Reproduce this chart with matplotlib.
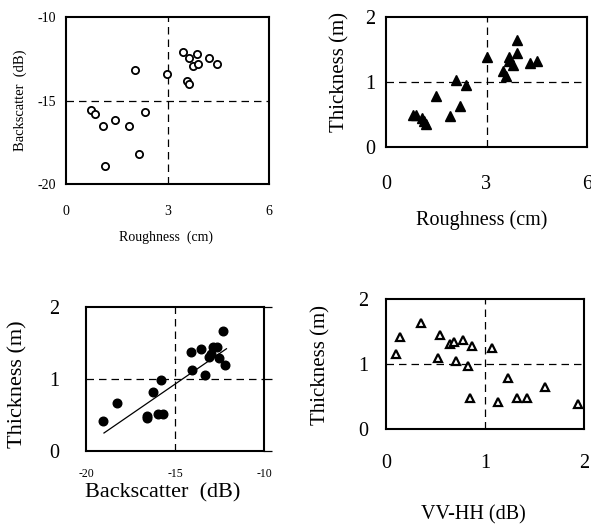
import matplotlib
matplotlib.use("Agg")
import matplotlib.pyplot as plt

plt.rcParams['font.family'] = ['Liberation Serif', 'DejaVu Serif']
plt.rcParams['axes.unicode_minus'] = False

# Panel a: Backscatter vs Roughness
rough_a = [0.74, 0.87, 1.10, 1.46, 1.86, 1.16, 2.17, 2.34, 2.05, 2.99, 3.46, 3.65,
           3.88, 3.75, 3.89, 4.23, 4.46, 3.57, 3.65]
back_a = [-15.55, -15.8, -16.5, -16.16, -16.5, -18.9, -18.18, -15.67, -13.15, -13.39,
          -12.1, -12.43, -12.2, -12.91, -12.79, -12.43, -12.79, -13.85, -13.99]

# Panel b: Thickness vs Roughness
rough_b = [0.80, 0.90, 1.07, 1.14, 1.20, 1.48, 1.90, 2.10, 2.21, 2.40, 3.01, 3.49,
           3.59, 3.68, 3.68, 3.79, 3.92, 3.91, 4.29, 4.51]
thick_b = [0.50, 0.50, 0.44, 0.40, 0.36, 0.79, 0.48, 1.03, 0.63, 0.95, 1.38, 1.17,
           1.10, 1.39, 1.33, 1.26, 1.44, 1.65, 1.29, 1.32]

# Panel c: Thickness vs Backscatter
back_c = [-19.05, -18.26, -16.58, -16.58, -16.26, -15.93, -15.68, -15.79, -14.11,
          -14.02, -13.55, -13.33, -13.10, -12.99, -12.88, -12.64, -12.55, -12.32, -12.21]
thick_c = [0.41, 0.66, 0.49, 0.46, 0.82, 0.52, 0.52, 0.99, 1.38, 1.13, 1.41, 1.05,
           1.30, 1.35, 1.45, 1.44, 1.29, 1.66, 1.19]
fit_x = [-18.99, -12.11]
fit_y = [0.25, 1.42]

# Panel d: Thickness vs VV-HH
vvhh_d = [0.10, 0.145, 0.35, 0.53, 0.55, 0.65, 0.69, 0.71, 0.78, 0.83, 0.87, 0.85,
          1.07, 1.13, 1.23, 1.32, 1.42, 1.61, 1.94]
thick_d = [1.16, 1.41, 1.63, 1.10, 1.44, 1.31, 1.34, 1.04, 1.37, 0.97, 1.27, 0.48,
           1.25, 0.42, 0.79, 0.48, 0.48, 0.64, 0.38]

W, H = 591, 527
fig = plt.figure(figsize=(W / 100, H / 100), dpi=100)


def add_ax(l, r, t, b):
    return fig.add_axes([l / W, 1 - b / H, (r - l) / W, (b - t) / H])


def style(ax, lw=1.5):
    for s in ax.spines.values():
        s.set_linewidth(lw)
        s.set_color('black')


dash = dict(color='black', lw=0.9, dashes=(6, 4), zorder=1)

# ---- Panel a
ax1 = add_ax(66, 269, 17, 184)
style(ax1)
ax1.plot(rough_a, back_a, 'o', mfc='white', mec='black', ms=5.2, mew=1.3, zorder=3)
ax1.axvline(3, **dash)
ax1.axhline(-15, **dash)
ax1.set_xlim(0, 6)
ax1.set_ylim(-20, -10)
ax1.set_xticks([0, 3, 6])
ax1.set_yticks([-20, -15, -10])
ax1.tick_params(length=0, labelsize=10)
ax1.tick_params(axis='x', pad=15)
ax1.tick_params(axis='y', pad=7)
ax1.set_xlabel('Roughness  (cm)', fontsize=10, va='center', ha='center')
ax1.xaxis.set_label_coords((166 - 66) / 203, -(237 - 184) / 167)
ax1.set_ylabel('Backscatter  (dB)', fontsize=10.5, va='center', ha='center')
ax1.yaxis.set_label_coords(-(66 - 20) / 203, 0.5)

# ---- Panel b
ax2 = add_ax(386, 587, 17, 147)
style(ax2)
ax2.plot(rough_b, thick_b, '^', color='black', ms=7.5, zorder=3)
ax2.axvline(3, **dash)
ax2.axhline(1, **dash)
ax2.set_xlim(0, 6)
ax2.set_ylim(0, 2)
ax2.set_xticks([0, 3, 6])
ax2.set_yticks([0, 1, 2])
ax2.tick_params(length=0, labelsize=14.5)
ax2.tick_params(axis='x', pad=20)
ax2.tick_params(axis='y', pad=8)
ax2.set_xlabel('Roughness (cm)', fontsize=14.5, va='center', ha='center')
ax2.xaxis.set_label_coords((482 - 386) / 201, -(220 - 147) / 130)
ax2.set_ylabel('Thickness (m)', fontsize=15, va='center', ha='center')
ax2.yaxis.set_label_coords(-(386 - 340) / 201, (147 - 72) / 130)

# ---- Panel c
ax3 = add_ax(86, 264, 307, 451)
style(ax3)
ax3.plot(back_c, thick_c, 'o', color='black', ms=6.2, zorder=3)
ax3.plot(fit_x, fit_y, color='black', lw=0.9, zorder=2)
ax3.axvline(-15, **dash)
ax3.axhline(1, **dash)
ax3.set_xlim(-20, -10)
ax3.set_ylim(0, 2)
ax3.set_xticks([-20, -15, -10])
ax3.set_yticks([0, 1, 2])
ax3.tick_params(axis='x', length=0, labelsize=8.5, pad=12)
ax3.tick_params(axis='y', left=False, right=True, direction='out', length=6,
                width=0.9, labelsize=14.5, pad=13)
ax3.set_xlabel('Backscatter  (dB)', fontsize=16, va='center', ha='center')
ax3.xaxis.set_label_coords((163 - 86) / 178, -(493 - 451) / 144)
ax3.set_ylabel('Thickness (m)', fontsize=16, va='center', ha='center')
ax3.yaxis.set_label_coords(-(86 - 18) / 178, (451 - 384) / 144)

# ---- Panel d
ax4 = add_ax(386, 584, 299, 429)
style(ax4)
ax4.plot(vvhh_d, thick_d, '^', mfc='white', mec='black', ms=6.0, mew=1.6, zorder=3)
ax4.axvline(1, **dash)
ax4.axhline(1, **dash)
ax4.set_xlim(0, 2)
ax4.set_ylim(0, 2)
ax4.set_xticks([0, 1, 2])
ax4.set_yticks([0, 1, 2])
ax4.tick_params(length=0, labelsize=14.5)
ax4.tick_params(axis='x', pad=18)
ax4.tick_params(axis='y', pad=13)
ax4.set_xlabel('VV-HH (dB)', fontsize=14.5, va='center', ha='center')
ax4.xaxis.set_label_coords((473 - 386) / 198, -(515 - 429) / 130)
ax4.set_ylabel('Thickness (m)', fontsize=15, va='center', ha='center')
ax4.yaxis.set_label_coords(-(386 - 321) / 198, (429 - 365) / 130)

fig.savefig('out.png', dpi=100, facecolor='white')
